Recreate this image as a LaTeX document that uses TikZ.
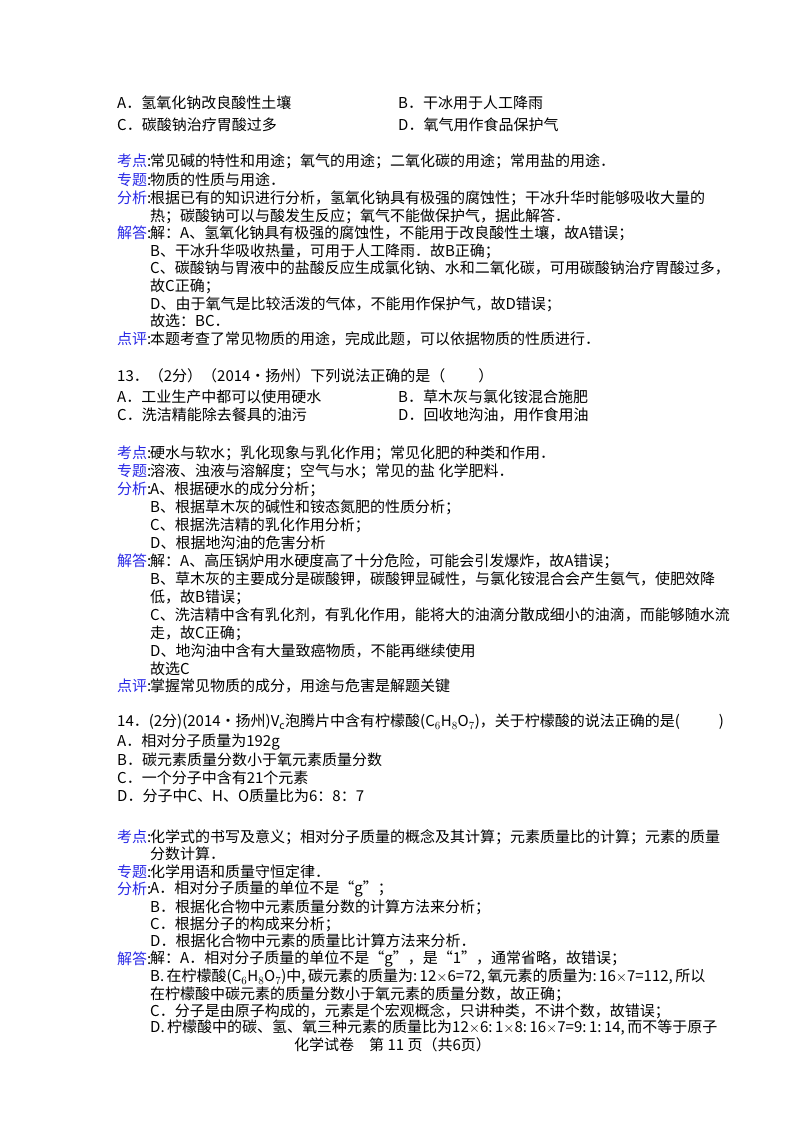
\documentclass[tikz,border=0pt]{standalone}
\usepackage{fontspec}
\setmainfont{Noto Sans CJK SC}
\definecolor{lab}{RGB}{40,40,230}
\newcounter{ln}
\newcommand\Ln[3]{\stepcounter{ln}\node[txt] (l\theln) at (#1,-#2) {#3};}
\newcommand\Lb[3]{\stepcounter{ln}\node[txt] (l\theln) at (#1,-#2) {\textcolor{lab}{#3}:};}
\begin{document}
\begin{tikzpicture}[x=1pt,y=1pt,txt/.style={anchor=west,inner sep=0pt,font=\fontsize{15}{16}\selectfont}]
\useasboundingbox (0,0) rectangle (800,-1132);
\Ln{117}{103}{A．氢氧化钠改良酸性土壤}
\Ln{398}{103}{B．干冰用于人工降雨}
\Ln{117}{125}{C．碳酸钠治疗胃酸过多}
\Ln{398}{125}{D．氧气用作食品保护气}
\Lb{117}{161}{考点}\Ln{150}{161}{常见碱的特性和用途；氧气的用途；二氧化碳的用途；常用盐的用途．}
\Lb{117}{180}{专题}\Ln{150}{180}{物质的性质与用途．}
\Lb{117}{198}{分析}\Ln{150}{198}{根据已有的知识进行分析，氢氧化钠具有极强的腐蚀性；干冰升华时能够吸收大量的}
\Ln{150}{216}{热；碳酸钠可以与酸发生反应；氧气不能做保护气，据此解答．}
\Lb{117}{233}{解答}\Ln{150}{233}{解：A、氢氧化钠具有极强的腐蚀性，不能用于改良酸性土壤，故A错误；}
\Ln{150}{251}{B、干冰升华吸收热量，可用于人工降雨．故B正确；}
\Ln{150}{268}{C、碳酸钠与胃液中的盐酸反应生成氯化钠、水和二氧化碳，可用碳酸钠治疗胃酸过多，}
\Ln{150}{286}{故C正确；}
\Ln{150}{304}{D、由于氧气是比较活泼的气体，不能用作保护气，故D错误；}
\Ln{150}{321}{故选：BC．}
\Lb{117}{339}{点评}\Ln{150}{339}{本题考查了常见物质的用途，完成此题，可以依据物质的性质进行．}
\Ln{117}{376}{13．（2分）（2014•扬州）下列说法正确的是（\hspace{2.2em}）}
\Ln{117}{397}{A．工业生产中都可以使用硬水}
\Ln{398}{397}{B．草木灰与氯化铵混合施肥}
\Ln{117}{415}{C．洗洁精能除去餐具的油污}
\Ln{398}{415}{D．回收地沟油，用作食用油}
\Lb{117}{453}{考点}\Ln{150}{453}{硬水与软水；乳化现象与乳化作用；常见化肥的种类和作用．}
\Lb{117}{471}{专题}\Ln{150}{471}{溶液、浊液与溶解度；空气与水；常见的盐\ 化学肥料．}
\Lb{117}{489}{分析}\Ln{150}{489}{A、根据硬水的成分分析；}
\Ln{150}{507}{B、根据草木灰的碱性和铵态氮肥的性质分析；}
\Ln{150}{525}{C、根据洗洁精的乳化作用分析；}
\Ln{150}{543}{D、根据地沟油的危害分析}
\Lb{117}{561}{解答}\Ln{150}{561}{解：A、高压锅炉用水硬度高了十分危险，可能会引发爆炸，故A错误；}
\Ln{150}{579}{B、草木灰的主要成分是碳酸钾，碳酸钾显碱性，与氯化铵混合会产生氨气，使肥效降}
\Ln{150}{597}{低，故B错误；}
\Ln{150}{615}{C、洗洁精中含有乳化剂，有乳化作用，能将大的油滴分散成细小的油滴，而能够随水流}
\Ln{150}{633}{走，故C正确；}
\Ln{150}{651}{D、地沟油中含有大量致癌物质，不能再继续使用}
\Ln{150}{669}{故选C}
\Lb{117}{686}{点评}\Ln{150}{686}{掌握常见物质的成分，用途与危害是解题关键}
\Ln{117}{722}{14．(2分)(2014•扬州)V$_\mathrm{c}$泡腾片中含有柠檬酸(C$_6$H$_8$O$_7$)，关于柠檬酸的说法正确的是(\hspace{2.6em})}
\Ln{117}{742}{A．相对分子质量为192g}
\Ln{117}{760}{B．碳元素质量分数小于氧元素质量分数}
\Ln{117}{778}{C．一个分子中含有21个元素}
\Ln{117}{796}{D．分子中C、H、O质量比为6：8：7}
\Lb{117}{837}{考点}\Ln{150}{837}{化学式的书写及意义；相对分子质量的概念及其计算；元素质量比的计算；元素的质量}
\Ln{150}{854}{分数计算．}
\Lb{117}{872}{专题}\Ln{150}{872}{化学用语和质量守恒定律．}
\Lb{117}{889}{分析}\Ln{150}{889}{A．相对分子质量的单位不是“g”；}
\Ln{150}{907}{B．根据化合物中元素质量分数的计算方法来分析；}
\Ln{150}{924}{C．根据分子的构成来分析；}
\Ln{150}{941}{D．根据化合物中元素的质量比计算方法来分析．}
\Lb{117}{959}{解答}\Ln{150}{959}{解：A．相对分子质量的单位不是“g”，是“1”，通常省略，故错误；}
\Ln{150}{977}{B.\,在柠檬酸(C$_6$H$_8$O$_7$)中,\,碳元素的质量为:\,12$\times$6=72,\,氧元素的质量为:\,16$\times$7=112,\,所以}
\Ln{150}{994}{在柠檬酸中碳元素的质量分数小于氧元素的质量分数，故正确；}
\Ln{150}{1011}{C．分子是由原子构成的，元素是个宏观概念，只讲种类，不讲个数，故错误；}
\Ln{150}{1028}{D.\,柠檬酸中的碳、氢、氧三种元素的质量比为12$\times$6:\,1$\times$8:\,16$\times$7=9:\,1:\,14,\,而不等于原子}
\Ln{294}{1045}{化学试卷\quad 第\ 11\ 页（共6页）}
\end{tikzpicture}
\end{document}
